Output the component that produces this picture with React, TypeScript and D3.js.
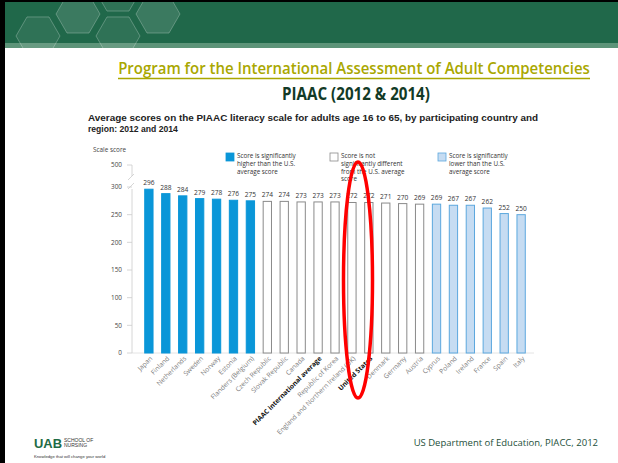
import React, { useEffect, useRef } from "react";
import * as d3 from "d3";

const countries = [
  "Japan", "Finland", "Netherlands", "Sweden", "Norway", "Estonia", "Flanders (Belgium)",
  "Czech Republic", "Slovak Republic", "Canada", "PIAAC international average", "Republic of Korea",
  "England and Northern Ireland (UK)", "United States", "Denmark", "Germany", "Austria",
  "Cyprus", "Poland", "Ireland", "France", "Spain", "Italy"
];
const scores = [296, 288, 284, 279, 278, 276, 275, 274, 274, 273, 273, 273, 272, 272, 271, 270, 269, 269, 267, 267, 262, 252, 250];
// 0 = higher than U.S., 1 = not different, 2 = lower
const groups = [0, 0, 0, 0, 0, 0, 0, 1, 1, 1, 1, 1, 1, 1, 1, 1, 1, 2, 2, 2, 2, 2, 2];
const yTicks = [0, 50, 100, 150, 200, 250, 300];
const boldLabels = ["PIAAC international average", "United States"];
const legendItems = [
  ["Score is significantly", "higher than the U.S.", "average score"],
  ["Score is not", "significantly different", "from the U.S. average", "score"],
  ["Score is significantly", "lower than the U.S.", "average score"]
];

const fills = ["#0a96d8", "#ffffff", "#c6dcf2"];
const strokes = ["#0a96d8", "#8a8a8a", "#5ca8de"];

const App = () => {
  const ref = useRef(null);

  useEffect(() => {
    const svg = d3.select(ref.current);
    svg.selectAll("*").remove();

    // header band
    svg.append("rect").attr("x", 0).attr("y", 0).attr("width", 618).attr("height", 48).attr("fill", "#20684a");
    svg.append("rect").attr("x", 0).attr("y", 43).attr("width", 618).attr("height", 5).attr("fill", "#5d9479");
    const hex = (cx, cy, r) => {
      const pts = d3.range(6).map(i => [cx + r * Math.cos(Math.PI / 3 * i), cy + r * Math.sin(Math.PI / 3 * i)]);
      return "M" + pts.join("L") + "Z";
    };
    [[38, 36, 22], [78, 14, 22], [118, 36, 22], [158, 14, 22], [118, -8, 22]].forEach(([cx, cy, r], i) => {
      svg.append("path").attr("d", hex(cx, cy, r))
        .attr("fill", "#ffffff").attr("fill-opacity", i % 2 ? 0.12 : 0.07)
        .attr("stroke", "#ffffff").attr("stroke-opacity", 0.25);
    });
    svg.append("rect").attr("x", 0).attr("y", 0).attr("width", 618).attr("height", 2).attr("fill", "#000");
    svg.append("rect").attr("x", 0).attr("y", 0).attr("width", 5).attr("height", 463).attr("fill", "#000");

    // titles: squeeze horizontally to the slide title width
    const fitText = (g, width) => {
      const t = g.select("text");
      const len = t.node().getComputedTextLength();
      if (len > 0) t.attr("transform", `scale(${width / len},1)`);
    };
    const titleG = svg.append("g").attr("transform", "translate(354,74)");
    titleG.append("text").attr("text-anchor", "middle")
      .attr("font-family", "Open Sans").attr("font-weight", 600).attr("font-size", 16.5)
      .attr("fill", "#a9a700")
      .text("Program for the International Assessment of Adult Competencies");
    fitText(titleG, 472);
    svg.append("line").attr("x1", 118).attr("x2", 590).attr("y1", 78.5).attr("y2", 78.5)
      .attr("stroke", "#a9a700").attr("stroke-width", 1.4);
    const subG = svg.append("g").attr("transform", "translate(356,100)");
    subG.append("text").attr("text-anchor", "middle")
      .attr("font-family", "Open Sans").attr("font-weight", 700).attr("font-size", 17.5)
      .attr("fill", "#123a26")
      .text("PIAAC (2012 & 2014)");
    fitText(subG, 148);

    const sub = svg.append("g").attr("font-family", "Liberation Sans").attr("font-weight", 700)
      .attr("font-size", 8.6).attr("fill", "#222");
    sub.append("text").attr("x", 88).attr("y", 121).attr("textLength", 450).attr("lengthAdjust", "spacingAndGlyphs")
      .text("Average scores on the PIAAC literacy scale for adults age 16 to 65, by participating country and");
    sub.append("text").attr("x", 88).attr("y", 132).text("region: 2012 and 2014");

    // scales
    const x = d3.scaleBand().domain(countries).range([140, 530]).paddingInner(0.45).paddingOuter(0.25);
    const y = d3.scaleLinear().domain([0, 300]).range([353, 187]);
    const axisX = 132;

    const chart = svg.append("g").attr("font-family", "Open Sans");
    chart.append("text").attr("x", 93).attr("y", 152).attr("font-size", 6.4).attr("fill", "#444").text("Scale score");

    // baseline
    chart.append("line").attr("x1", axisX).attr("x2", 534).attr("y1", y(0)).attr("y2", y(0))
      .attr("stroke", "#ddd").attr("stroke-width", 0.8);
    // axis with break
    chart.append("line").attr("x1", axisX).attr("x2", axisX).attr("y1", y(0)).attr("y2", y(300) + 2)
      .attr("stroke", "#ccc").attr("stroke-width", 0.8);
    chart.append("path").attr("d", `M${axisX - 4},${y(300) + 2}L${axisX + 2},${y(300) - 4}`)
      .attr("fill", "none").attr("stroke", "#ccc").attr("stroke-width", 0.8);
    chart.append("path").attr("d", `M${axisX - 4},${y(300) - 7}L${axisX + 2},${y(300) - 13}M${axisX},${y(300) - 11}L${axisX},${y(300) - 22}`)
      .attr("fill", "none").attr("stroke", "#ccc").attr("stroke-width", 0.8);
    const tickG = chart.append("g");
    yTicks.forEach(t => {
      tickG.append("line").attr("x1", axisX - 5).attr("x2", axisX).attr("y1", y(t)).attr("y2", y(t))
        .attr("stroke", "#ccc").attr("stroke-width", 0.8);
      tickG.append("text").attr("x", axisX - 10).attr("y", y(t) + 2.2).attr("text-anchor", "end")
        .attr("font-size", 6.4).attr("fill", "#444").text(t);
    });
    const y500 = y(300) - 22;
    tickG.append("line").attr("x1", axisX - 5).attr("x2", axisX).attr("y1", y500).attr("y2", y500)
      .attr("stroke", "#ccc").attr("stroke-width", 0.8);
    tickG.append("text").attr("x", axisX - 10).attr("y", y500 + 2.2).attr("text-anchor", "end")
      .attr("font-size", 6.4).attr("fill", "#444").text(500);

    // bars
    chart.selectAll("rect.bar").data(countries).enter().append("rect").attr("class", "bar")
      .attr("x", d => x(d) + 0.5)
      .attr("y", (d, i) => y(scores[i]))
      .attr("width", x.bandwidth() - 1)
      .attr("height", (d, i) => y(0) - y(scores[i]))
      .attr("fill", (d, i) => fills[groups[i]])
      .attr("stroke", (d, i) => strokes[groups[i]])
      .attr("stroke-width", 1);

    chart.selectAll("text.val").data(countries).enter().append("text").attr("class", "val")
      .attr("x", d => x(d) + x.bandwidth() / 2)
      .attr("y", (d, i) => y(scores[i]) - 4)
      .attr("text-anchor", "middle").attr("font-size", 6.6).attr("fill", "#333")
      .text((d, i) => scores[i]);

    chart.selectAll("text.lab").data(countries).enter().append("text").attr("class", "lab")
      .attr("transform", d => `translate(${x(d) + x.bandwidth() / 2 + 4},${y(0) + 6}) rotate(-45)`)
      .attr("text-anchor", "end").attr("font-size", 6.7)
      .attr("font-weight", d => boldLabels.includes(d) ? 700 : 400)
      .attr("fill", d => boldLabels.includes(d) ? "#111" : "#808080")
      .text(d => d);

    // legend
    const legendX = [226, 330, 438];
    legendItems.forEach((lines, k) => {
      const g = chart.append("g").attr("transform", `translate(${legendX[k]},153)`);
      g.append("rect").attr("x", 0).attr("y", 0).attr("width", 8).attr("height", 8)
        .attr("fill", fills[k]).attr("stroke", strokes[k]).attr("stroke-width", 0.8);
      lines.forEach((l, j) => {
        g.append("text").attr("x", 11).attr("y", 5 + j * 7.8).attr("font-size", 6.3).attr("fill", "#333").text(l);
      });
    });

    // red ellipse
    svg.append("ellipse").attr("cx", 358).attr("cy", 280).attr("rx", 14.5).attr("ry", 118)
      .attr("fill", "none").attr("stroke", "#f00").attr("stroke-width", 3.5);

    // footer
    svg.append("text").attr("x", 598).attr("y", 446).attr("text-anchor", "end")
      .attr("font-family", "Open Sans").attr("font-size", 9.5).attr("fill", "#1d4f3a")
      .text("US Department of Education, PIACC, 2012");
    svg.append("text").attr("x", 34).attr("y", 448).attr("font-family", "Liberation Sans").attr("font-weight", 700)
      .attr("font-size", 12).attr("fill", "#1e6b45").attr("textLength", 28).attr("lengthAdjust", "spacingAndGlyphs").text("UAB");
    svg.append("text").attr("x", 64).attr("y", 442).attr("font-family", "Liberation Sans").attr("font-size", 5)
      .attr("fill", "#333").text("SCHOOL OF");
    svg.append("text").attr("x", 64).attr("y", 447).attr("font-family", "Liberation Sans").attr("font-size", 5)
      .attr("fill", "#333").text("NURSING");
    svg.append("text").attr("x", 34).attr("y", 458).attr("font-family", "Liberation Sans").attr("font-size", 4.2)
      .attr("fill", "#333").text("Knowledge that will change your world");
  }, []);

  return (
    <svg ref={ref} width={618} height={463} style={{ position: "absolute", left: 0, top: 0, background: "#fff" }} />
  );
};

export default App;
